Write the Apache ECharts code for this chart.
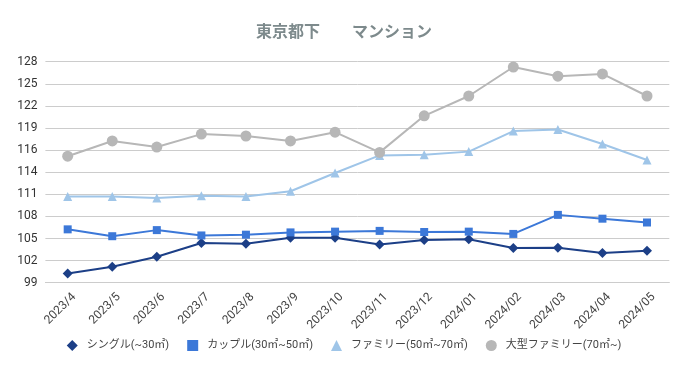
<!DOCTYPE html>
<html><head><meta charset="utf-8">
<script src="https://cdn.jsdelivr.net/npm/echarts@6/dist/echarts.min.js"></script>
<style>html,body{margin:0;padding:0;background:#fff}#c{width:688px;height:371px}</style>
</head><body><div id="c"></div>
<script>
const categories = ['2023/4','2023/5','2023/6','2023/7','2023/8','2023/9','2023/10','2023/11','2023/12','2024/01','2024/02','2024/03','2024/04','2024/05'];
const single = [100.2,101.1,102.4,104.2,104.1,104.9,104.9,104.0,104.6,104.7,103.55,103.6,102.9,103.2];
const couple = [106.0,105.1,105.9,105.2,105.3,105.6,105.7,105.8,105.65,105.7,105.4,107.9,107.4,106.9];
const family = [110.3,110.3,110.1,110.4,110.3,111.0,113.4,115.7,115.8,116.2,118.9,119.1,117.2,115.1];
const largeFamily = [115.6,117.6,116.8,118.5,118.25,117.6,118.75,116.1,120.9,123.5,127.3,126.1,126.4,123.5];
const seriesNames = ['シングル(~30㎡)','カップル(30㎡~50㎡)','ファミリー(50㎡~70㎡)','大型ファミリー(70㎡~)'];
const yMin = 99, yMax = 128, yStep = 2.9;

const chart = echarts.init(document.getElementById('c'), null, {renderer:'canvas'});
const font = 'Roboto, "Noto Sans CJK JP", sans-serif';
const colors = ['#1c3f87','#3c78d8','#9fc5e8','#b7b7b7'];
const symbols = ['diamond','rect','triangle','circle'];
const sizes = [10,8,9,11];
const datas = [single, couple, family, largeFamily];
chart.setOption({
  animation:false,
  title:{text:'東京都下　　マンション', left:'center', top:18,
    textStyle:{fontFamily:'"Noto Sans CJK JP", sans-serif', fontSize:16, fontWeight:'bold', color:'#7d8a8c'}},
  grid:{left:45.4, right:18.7, top:61.7, bottom:88.3, containLabel:false},
  legend:{bottom:15, left:'center', itemGap:18, itemWidth:11, itemHeight:11,
    textStyle:{fontFamily:font, fontSize:11, color:'#444', padding:[0,0,0,4]},
    data: seriesNames.map((n,i)=>({name:n, icon:symbols[i]}))},
  xAxis:{type:'category', data:categories, boundaryGap:true,
    axisLine:{show:true, lineStyle:{color:'#cccccc'}}, axisTick:{show:false},
    axisLabel:{rotate:45, interval:0, fontFamily:font, fontSize:12, color:'#444', margin:6,
      verticalAlign:'top', padding:[3,0,0,0]}},
  yAxis:{type:'value', min:yMin, max:yMax, interval:yStep,
    axisLine:{show:false}, axisTick:{show:false},
    splitLine:{lineStyle:{color:'#cccccc', width:1}},
    axisLabel:{formatter:v=>String(Math.round(v)), fontFamily:font, fontSize:12, color:'#333', margin:8}},
  series: datas.map((d,i)=>({
    name:seriesNames[i], type:'line', data:d, symbol:symbols[i], symbolSize:sizes[i],
    lineStyle:{color:colors[i], width:2}, itemStyle:{color:colors[i]}, z: 2+i
  }))
});
</script></body></html>
